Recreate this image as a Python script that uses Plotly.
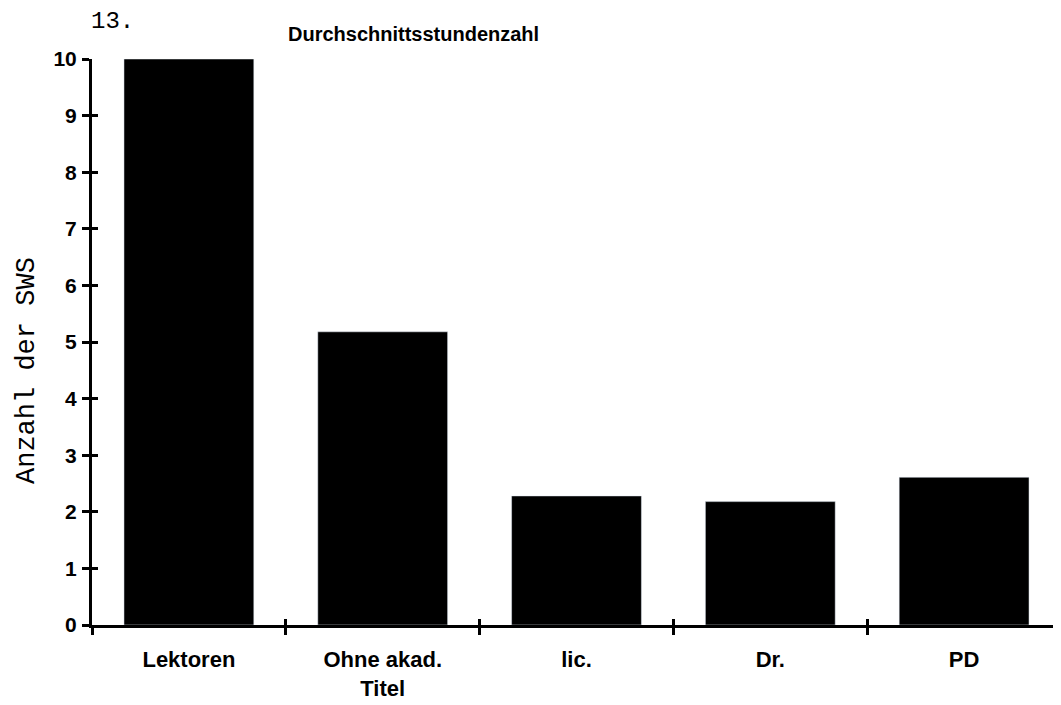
import plotly.graph_objects as go

categories = ["Lektoren", "Ohne akad.<br>Titel", "lic.", "Dr.", "PD"]
values = [10.0, 5.18, 2.28, 2.18, 2.61]
y_ticks = [0, 1, 2, 3, 4, 5, 6, 7, 8, 9, 10]

# the page body has an 8px margin, so the figure is placed at (8, 8) in the window
OFF = 8
W, H = 1061 - OFF, 705 - OFF
L, R, T, B = 92 - OFF, 0, 59 - OFF, 705 - 625
pw = W - L - R
ph = H - T - B


def px_x(x):
    return (x - OFF - L) / pw


def px_y(y):
    return (H - B - (y - OFF)) / ph


fig = go.Figure()
fig.add_trace(go.Bar(x=categories, y=values, marker=dict(color="black", line=dict(width=0)),
                     hoverinfo="skip", showlegend=False, cliponaxis=False))
# invisible copy on overlay axes so the inner half of the crossing ticks is drawn
fig.add_trace(go.Bar(x=categories, y=values, marker=dict(color="rgba(0,0,0,0)"),
                     xaxis="x2", yaxis="y2", hoverinfo="skip", showlegend=False))

ytickfont = dict(family="Liberation Sans", size=21, color="black", weight="bold")
xtickfont = dict(family="Liberation Sans", size=22, color="black", weight="bold")

fig.update_layout(
    width=W, height=H,
    margin=dict(l=L, r=R, t=T, b=B, pad=0, autoexpand=False),
    paper_bgcolor="white", plot_bgcolor="white",
    bargap=0.33,
    xaxis=dict(type="category", range=[-0.5, 4.5], tickson="boundaries",
               ticks="outside", ticklen=7, tickwidth=3, tickcolor="black",
               showline=True, linewidth=3, linecolor="black", showgrid=False,
               tickfont=xtickfont, ticklabelstandoff=13, zeroline=False, automargin=False),
    yaxis=dict(range=[0, 10], tickvals=y_ticks, ticks="outside", ticklen=7, tickwidth=3,
               tickcolor="black", showline=True, linewidth=3, linecolor="black",
               showgrid=False, zeroline=False, tickfont=ytickfont, ticklabelstandoff=1,
               automargin=False),
    xaxis2=dict(type="category", overlaying="x", anchor="y2", range=[-0.5, 4.5],
                tickson="boundaries", ticks="inside", ticklen=6, tickwidth=3,
                tickcolor="black", showticklabels=False, showline=False, showgrid=False,
                zeroline=False),
    yaxis2=dict(overlaying="y", anchor="x2", side="left", range=[0, 10], tickvals=y_ticks,
                ticks="inside", ticklen=6, tickwidth=3, tickcolor="black",
                showticklabels=False, showline=False, showgrid=False, zeroline=False),
    font=dict(family="Liberation Sans", color="black"),
)

fig.add_annotation(text="Durchschnittsstundenzahl", xref="paper", yref="paper",
                   x=px_x(413), y=px_y(34), xanchor="center", yanchor="middle",
                   showarrow=False,
                   font=dict(family="Liberation Sans", size=20, color="black", weight="bold"))
fig.add_annotation(text="13.", xref="paper", yref="paper",
                   x=px_x(89), y=px_y(22), xanchor="left", yanchor="middle",
                   showarrow=False,
                   font=dict(family="Liberation Mono", size=24, color="black"))
fig.add_annotation(text="Anzahl der SWS", xref="paper", yref="paper",
                   x=px_x(27), y=px_y(371), xanchor="center", yanchor="middle",
                   textangle=-90, showarrow=False,
                   font=dict(family="Liberation Mono", size=27, color="black"))

fig.write_html("out.html")
